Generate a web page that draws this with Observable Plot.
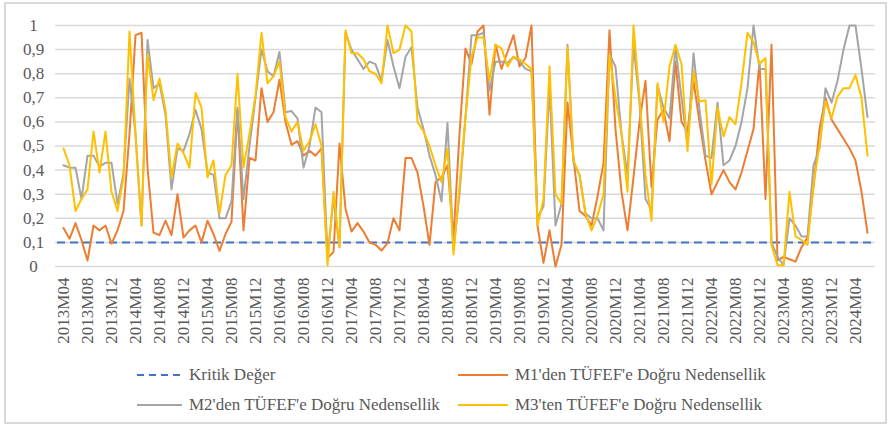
<!DOCTYPE html>
<html><head><meta charset="utf-8">
<script src="https://cdn.jsdelivr.net/npm/d3@7"></script>
<script src="https://cdn.jsdelivr.net/npm/@observablehq/plot@0.6"></script>
<style>
html,body{margin:0;padding:0;background:#fff;}
body{width:892px;height:427px;position:relative;overflow:hidden;font-family:"Liberation Serif","Times New Roman","DejaVu Serif",serif;}
#frame{position:absolute;left:4px;top:2px;width:883px;height:422px;border:2px solid #d9d9d9;box-sizing:border-box;pointer-events:none;}
#chart{position:absolute;left:0;top:0;}
#chart svg text{font-family:"Liberation Serif","Times New Roman","DejaVu Serif",serif !important;}
.leg{position:absolute;display:flex;align-items:center;height:20px;font-size:17px;color:#595959;white-space:nowrap;font-family:"Liberation Serif","Times New Roman","DejaVu Serif",serif;}
.leg svg{margin-right:7px;}
</style></head>
<body>
<div id="frame"></div>
<div id="chart"></div>
<div id="legend"></div>
<script>
// categories: monthly 2013M04 .. 2024M06
const startYear = 2013, startMonth = 4, nMonths = 135;
const months = [];
for (let k = 0; k < nMonths; k++) {
  const m = startMonth - 1 + k;
  months.push(`${startYear + Math.floor(m / 12)}M${String(m % 12 + 1).padStart(2, "0")}`);
}
const xTickLabels = ["2013M04","2013M08","2013M12","2014M04","2014M08","2014M12","2015M04","2015M08","2015M12",
  "2016M04","2016M08","2016M12","2017M04","2017M08","2017M12","2018M04","2018M08","2018M12","2019M04","2019M08",
  "2019M12","2020M04","2020M08","2020M12","2021M04","2021M08","2021M12","2022M04","2022M08","2022M12","2023M04",
  "2023M08","2023M12","2024M04"];
const yTicks = [0,0.1,0.2,0.3,0.4,0.5,0.6,0.7,0.8,0.9,1];
const yTickLabels = ["0","0,1","0,2","0,3","0,4","0,5","0,6","0,7","0,8","0,9","1"];

const kritikDeger = 0.1;
const m1 = [0.16,0.115,0.18,0.11,0.025,0.17,0.15,0.17,0.095,0.15,0.23,0.55,0.96,0.97,0.41,0.14,0.13,0.19,0.13,0.30,
  0.12,0.15,0.17,0.10,0.19,0.135,0.065,0.135,0.185,0.65,0.15,0.45,0.44,0.74,0.60,0.64,0.775,0.60,0.505,0.52,
  0.46,0.48,0.46,0.49,0.035,0.06,0.51,0.24,0.145,0.18,0.145,0.10,0.09,0.066,0.097,0.20,0.15,0.45,0.45,0.39,
  0.25,0.09,0.35,0.37,0.42,0.12,0.55,0.905,0.84,0.975,1.0,0.63,0.92,0.82,0.89,0.96,0.83,0.865,1.0,0.17,
  0.015,0.15,0.0,0.09,0.68,0.45,0.23,0.21,0.17,0.29,0.43,0.98,0.57,0.31,0.15,0.37,0.6,0.77,0.33,0.61,
  0.65,0.52,0.85,0.6,0.56,0.77,0.6,0.44,0.30,0.35,0.40,0.35,0.32,0.39,0.48,0.57,0.85,0.28,0.92,0.025,
  0.04,0.03,0.02,0.08,0.12,0.33,0.57,0.70,0.61,0.57,0.53,0.49,0.44,0.31,0.14];
const m2 = [0.42,0.41,0.41,0.28,0.46,0.46,0.415,0.43,0.43,0.26,0.385,0.78,0.55,0.17,0.94,0.74,0.76,0.63,0.32,0.49,
  0.48,0.55,0.65,0.57,0.39,0.38,0.2,0.2,0.27,0.66,0.28,0.5,0.7,0.9,0.81,0.79,0.89,0.64,0.645,0.615,
  0.41,0.5,0.66,0.64,0.04,0.28,0.08,0.97,0.9,0.86,0.82,0.85,0.84,0.77,0.94,0.83,0.74,0.87,0.91,0.66,
  0.57,0.46,0.38,0.27,0.595,0.07,0.3,0.62,0.96,0.96,0.97,0.73,0.85,0.85,0.845,0.87,0.85,0.82,0.81,0.2,
  0.25,0.75,0.17,0.26,0.92,0.43,0.38,0.22,0.2,0.2,0.15,0.88,0.83,0.55,0.38,0.92,0.68,0.28,0.235,0.75,
  0.66,0.615,0.91,0.7,0.5,0.885,0.65,0.46,0.45,0.68,0.42,0.44,0.5,0.6,0.74,1.0,0.82,0.82,0.1,0.04,
  0.007,0.2,0.17,0.125,0.125,0.42,0.49,0.74,0.68,0.77,0.9,1.0,1.0,0.82,0.62];
const m3 = [0.49,0.42,0.23,0.28,0.32,0.56,0.39,0.56,0.31,0.23,0.37,0.975,0.55,0.17,0.88,0.69,0.78,0.65,0.37,0.51,
  0.47,0.41,0.72,0.66,0.37,0.44,0.22,0.38,0.42,0.8,0.41,0.55,0.71,0.97,0.76,0.79,0.85,0.62,0.56,0.6,
  0.48,0.52,0.59,0.5,0.005,0.31,0.08,0.98,0.885,0.885,0.86,0.81,0.8,0.76,1.0,0.885,0.9,1.0,0.975,0.6,
  0.56,0.5,0.42,0.35,0.49,0.05,0.33,0.62,0.87,0.95,0.95,0.77,0.92,0.905,0.83,0.87,0.86,0.84,0.82,0.17,
  0.28,0.83,0.3,0.26,0.91,0.44,0.38,0.22,0.15,0.21,0.3,0.88,0.7,0.55,0.31,1.0,0.7,0.38,0.19,0.76,
  0.6,0.83,0.92,0.84,0.48,0.81,0.685,0.69,0.34,0.66,0.54,0.62,0.59,0.76,0.97,0.93,0.84,0.865,0.09,0.005,
  0.005,0.31,0.125,0.11,0.09,0.34,0.505,0.685,0.615,0.705,0.74,0.74,0.795,0.70,0.46];

const seriesNames = ["Kritik Değer","M1'den TÜFEF'e Doğru Nedensellik","M2'den TÜFEF'e Doğru Nedensellik","M3'ten TÜFEF'e Doğru Nedensellik"];
const seriesColors = ["#4472C4","#ED7D31","#A5A5A5","#FFC000"];

const rows = vals => vals.map((v, i) => ({month: months[i], value: v}));
const serifStack = "'Liberation Serif', 'Times New Roman', 'DejaVu Serif', serif";

const chart = Plot.plot({
  width: 892, height: 358,
  marginLeft: 57, marginRight: 19, marginTop: 25, marginBottom: 92,
  style: {fontFamily: serifStack, fontSize: "17px", color: "#595959", background: "transparent", overflow: "visible"},
  x: {type: "point", domain: months, padding: 0},
  y: {domain: [0, 1]},
  marks: [
    Plot.ruleY(yTicks, {stroke: "#d9d9d9", strokeWidth: 1.5, insetLeft: -2, insetRight: -2}),
    Plot.axisY({ticks: yTicks, tickFormat: d => yTickLabels[yTicks.indexOf(d)], tickSize: 0, tickPadding: 24, textAnchor: "middle", label: null, fill: "#595959", fontFamily: serifStack}),
    Plot.axisX({ticks: xTickLabels, tickRotate: -90, tickSize: 0, tickPadding: 11, label: null, fill: "#595959", fontFamily: serifStack}),
    Plot.ruleY([kritikDeger], {stroke: seriesColors[0], strokeWidth: 2, strokeDasharray: "8,5"}),
    Plot.line(rows(m1), {x: "month", y: "value", stroke: seriesColors[1], strokeWidth: 2}),
    Plot.line(rows(m2), {x: "month", y: "value", stroke: seriesColors[2], strokeWidth: 2}),
    Plot.line(rows(m3), {x: "month", y: "value", stroke: seriesColors[3], strokeWidth: 2})
  ]
});
document.getElementById("chart").appendChild(chart);

// legend
const legPos = [[137, 365, 45], [458, 365, 50], [137, 395, 45], [458, 395, 50]];
const legend = document.getElementById("legend");
seriesNames.forEach((name, i) => {
  const [left, top, w] = legPos[i];
  const div = document.createElement("div");
  div.className = "leg";
  div.style.left = left + "px";
  div.style.top = top + "px";
  const dash = i === 0 ? ' stroke-dasharray="7,5"' : '';
  div.innerHTML = `<svg width="${w}" height="20"><line x1="0" x2="${w}" y1="10" y2="10" stroke="${seriesColors[i]}" stroke-width="2"${dash}/></svg><span></span>`;
  div.querySelector("span").textContent = name;
  legend.appendChild(div);
});
</script>
</body></html>
